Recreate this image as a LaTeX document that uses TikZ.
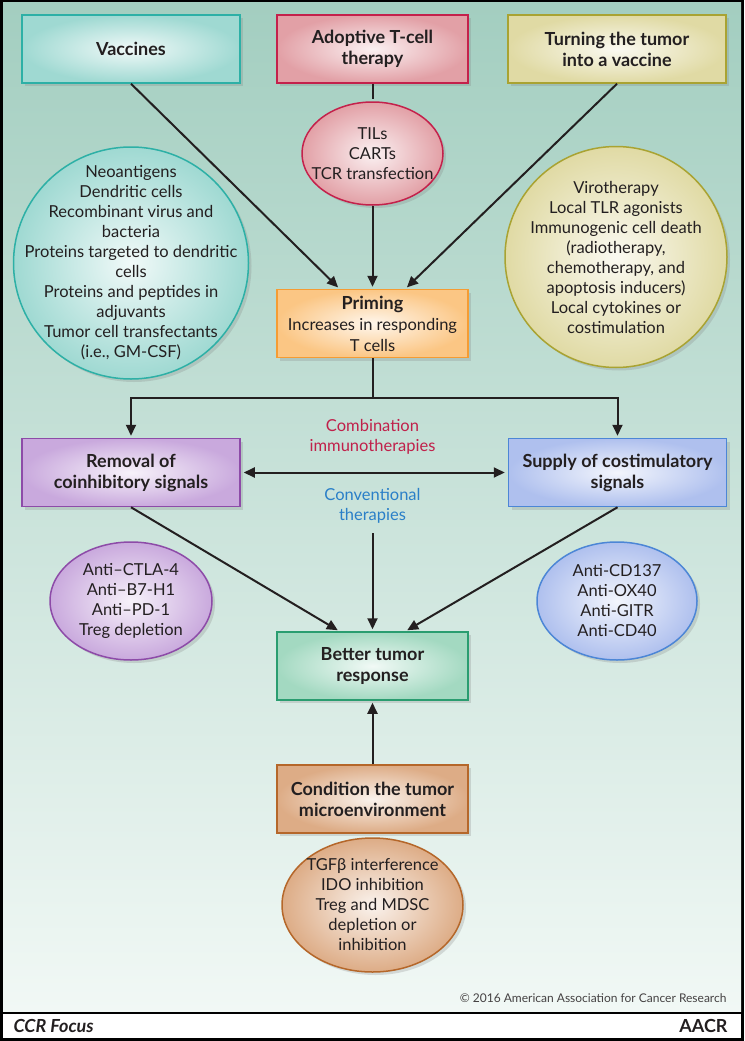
\documentclass[tikz,border=0pt]{standalone}
\usepackage{fontspec}
\setmainfont{Lato}
\usetikzlibrary{shapes.geometric, arrows.meta, shadows}

\definecolor{ink}{HTML}{231F20}
\definecolor{vacline}{HTML}{2DB0A6}
\definecolor{vacfill}{HTML}{9FD9D2}
\definecolor{actline}{HTML}{C4214B}
\definecolor{actfill}{HTML}{E2A0A6}
\definecolor{tumline}{HTML}{A9A332}
\definecolor{tumfill}{HTML}{E0DAA4}
\definecolor{priline}{HTML}{F59C33}
\definecolor{prifill}{HTML}{FBC684}
\definecolor{remline}{HTML}{8D4BA8}
\definecolor{remfill}{HTML}{C9A9DD}
\definecolor{supline}{HTML}{4C86D6}
\definecolor{supfill}{HTML}{AFC0EE}
\definecolor{betline}{HTML}{2A9D70}
\definecolor{betfill}{HTML}{A3D9C1}
\definecolor{conline}{HTML}{B5672A}
\definecolor{confill}{HTML}{DDAC86}
\definecolor{combtext}{HTML}{C0204A}
\definecolor{convtext}{HTML}{2A7FC8}
\definecolor{bgtop}{HTML}{A3CEC0}
\definecolor{bgbot}{HTML}{F1F8F5}

\newcommand{\lite}{\mdseries\fontsize{16.5}{20}\selectfont}

\tikzset{
    box/.style 2 args={rectangle, draw=#1, line width=1.5pt,
        inner color=#2!15!white, outer color=#2,
        drop shadow={shadow xshift=3pt, shadow yshift=-3pt, opacity=.25},
        minimum height=68pt, align=center, text=ink,
        font=\bfseries\fontsize{18}{21}\selectfont},
    bubble/.style 2 args={ellipse, draw=#1, line width=1.5pt,
        inner color=#2!15!white, outer color=#2, inner sep=0pt,
        drop shadow={shadow xshift=3pt, shadow yshift=-3pt, opacity=.25}},
    words/.style={align=center, text=ink, font=\fontsize{16.5}{20}\selectfont},
    link/.style={draw=ink, line width=2pt, shorten >=2pt},
    >={Triangle[length=11pt,width=10pt]},
}

\begin{document}
\begin{tikzpicture}[x=1pt,y=-1pt]
        \useasboundingbox (0,0) rectangle (744,1041);
        \fill[black] (0,0) rectangle (744,1041);
        \shade[top color=bgtop, bottom color=bgbot] (3,3) rectangle (741,1011);
        \fill[white] (3,1014) rectangle (741,1038);

        % top row
        \node[box={vacline}{vacfill}, minimum width=218pt] (vaccines) at (131,49) {Vaccines};
        \node[box={actline}{actfill}, minimum width=191pt] (adoptive) at (372.5,49) {Adoptive T-cell\\therapy};
        \node[box={tumline}{tumfill}, minimum width=218pt] (turning) at (617,49) {Turning the tumor\\into a vaccine};

        \node[bubble={actline}{actfill}, minimum width=141pt, minimum height=103pt,
            label={[words]center:{TILs\\CARTs\\TCR transfection}}] (tils) at (372.5,153.5) {};
        \node[bubble={vacline}{vacfill}, minimum width=235pt, minimum height=232pt,
            label={[words]center:{Neoantigens\\Dendritic cells\\Recombinant virus and\\bacteria\\Proteins targeted to dendritic\\cells\\Proteins and peptides in\\adjuvants\\Tumor cell transfectants\\(i.e., GM-CSF)}}] (vacitems) at (131,263) {};
        \node[bubble={tumline}{tumfill}, minimum width=222pt, minimum height=221pt,
            label={[words]center:{Virotherapy\\Local TLR agonists\\Immunogenic cell death\\(radiotherapy,\\chemotherapy, and\\apoptosis inducers)\\Local cytokines or\\costimulation}}] (tumitems) at (616,257) {};

        \node[box={priline}{prifill}, minimum width=191pt] (priming) at (372.5,323.5)
            {Priming\\\lite Increases in responding\\\lite T cells};

        % middle row
        \node[box={remline}{remfill}, minimum width=218pt] (removal) at (131,472.5) {Removal of\\coinhibitory signals};
        \node[box={supline}{supfill}, minimum width=218pt] (supply) at (617.5,472.5) {Supply of costimulatory\\signals};
        \node[words, text=combtext] (combo) at (372.5,437) {Combination\\immunotherapies};
        \node[words, text=convtext] (conven) at (372.5,506) {Conventional\\therapies};
        \coordinate (convend) at (372.5,533);

        \node[bubble={remline}{remfill}, minimum width=162pt, minimum height=118pt,
            label={[words]center:{Anti--CTLA-4\\Anti--B7-H1\\Anti--PD-1\\Treg depletion}}] (remitems) at (131,601) {};
        \node[bubble={supline}{supfill}, minimum width=160pt, minimum height=118pt,
            label={[words]center:{Anti-CD137\\Anti-OX40\\Anti-GITR\\Anti-CD40}}] (supitems) at (617,601) {};

        % bottom
        \node[box={betline}{betfill}, minimum width=191pt] (better) at (372.5,666) {Better tumor\\response};
        \node[box={conline}{confill}, minimum width=191pt] (condition) at (372.5,799) {Condition the tumor\\microenvironment};
        \node[bubble={conline}{confill}, minimum width=181pt, minimum height=134pt,
            label={[words]center:{TGFβ interference\\IDO inhibition\\Treg and MDSC\\depletion or\\inhibition}}] (conitems) at (372.5,905) {};

        \node[anchor=east, text=ink!85, font=\fontsize{12}{14}\selectfont] (copy) at (730,998)
            {© 2016 American Association for Cancer Research};
        \node[anchor=west, text=ink, font=\bfseries\itshape\fontsize{18}{20}\selectfont] (focus) at (10,1026) {CCR Focus};
        \node[anchor=east, text=ink, font=\bfseries\fontsize{18}{20}\selectfont] (aacr) at (731,1026) {AACR};

        % connectors
        \draw[link] (adoptive) -- (tils);
        \draw[link, ->] (tils) -- (priming);
        \draw[link, ->] (vaccines.south) -- ([xshift=-33pt]priming.north);
        \draw[link, ->] (turning.south) -- ([xshift=33pt]priming.north);
        \draw[link, ->] (priming.south) -- ++(0,40) -| (removal.north);
        \draw[link, ->] (priming.south) -- ++(0,40) -| (supply.north);
        \draw[link, <->, shorten <=3pt, shorten >=3pt] (removal) -- (supply);
        \draw[link, ->] (convend) -- (better);
        \draw[link, ->] (removal.south) -- ([xshift=-33pt]better.north);
        \draw[link, ->] (supply.south) -- ([xshift=33pt]better.north);
        \draw[link, ->] (condition) -- (better);
    \end{tikzpicture}
\end{document}
